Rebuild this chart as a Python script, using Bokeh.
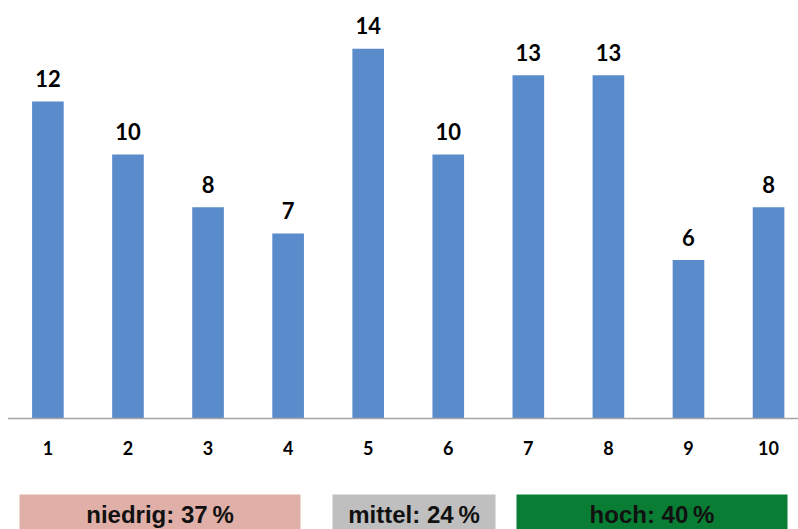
from bokeh.plotting import figure
from bokeh.models import Range1d, ColumnDataSource
from bokeh.core.properties import value
from bokeh.embed import file_html
from bokeh.resources import INLINE

# ---- data ----
categories = [1, 2, 3, 4, 5, 6, 7, 8, 9, 10]
values = [12, 10, 8, 7, 14, 10, 13, 13, 6, 8]
tick_labels = [str(c) for c in categories]

band_labels = ["niedrig: 37\u2009%", "mittel: 24\u2009%", "hoch: 40\u2009%"]
band_colors = ["#DFAFA8", "#BFBFBF", "#0A7D35"]

# ---- geometry ----
W, H = 798, 529
X0, X1 = 0.408, 10.374          # category axis range
Y0, Y1 = -4.203, 15.827         # value axis range (room below for the band)
band_left_px = [19, 332, 516]
band_right_px = [300, 495, 787]
band_top_px = 494


def px_to_x(px):
    return X0 + px / W * (X1 - X0)


def px_to_y(py):
    return Y1 - py / H * (Y1 - Y0)


BAR_COLOR = "#5A8BCB"

p = figure(width=W, height=H, output_backend="svg", toolbar_location=None,
           x_range=Range1d(X0, X1), y_range=Range1d(Y0, Y1), min_border=0)
p.outline_line_color = None
p.grid.grid_line_color = None
p.axis.visible = False
p.background_fill_color = "white"
p.border_fill_color = "white"

# bars + value labels
src = ColumnDataSource(dict(x=categories, top=values,
                            label=[str(v) for v in values]))
p.vbar(x="x", top="top", bottom=0, width=0.395, source=src,
       fill_color=BAR_COLOR, line_color=None)
p.text(x="x", y="top", text="label", source=src, y_offset=-23,
       text_align="center", text_baseline="middle",
       text_font=value("Lato"), text_font_style="bold",
       text_font_size="22px", text_color="#000000")

# category axis line and tick labels
p.segment(x0=[categories[0] - 0.5], y0=[0], x1=[categories[-1] + 0.5], y1=[0],
          line_color="#A6A6A6", line_width=1.5)
tsrc = ColumnDataSource(dict(x=categories, y=[0] * len(categories), t=tick_labels))
p.text(x="x", y="y", text="t", source=tsrc, y_offset=30,
       text_align="center", text_baseline="middle",
       text_font=value("Lato"), text_font_style="bold",
       text_font_size="18px", text_color="#000000")

# category band
bl = [px_to_x(v) for v in band_left_px]
br = [px_to_x(v) for v in band_right_px]
btop = px_to_y(band_top_px)
bsrc = ColumnDataSource(dict(left=bl, right=br, color=band_colors, label=band_labels,
                             xc=[(l + r) / 2 for l, r in zip(bl, br)],
                             top=[btop] * 3))
p.quad(left="left", right="right", bottom=Y0 - 1, top="top", source=bsrc,
       fill_color="color", line_color=None)
p.text(x="xc", y="top", text="label", source=bsrc, y_offset=20,
       text_align="center", text_baseline="middle",
       text_font=value("Liberation Sans"), text_font_style="bold",
       text_font_size="24px", text_color="#111111")

open("out.html", "w").write(file_html(p, INLINE))
